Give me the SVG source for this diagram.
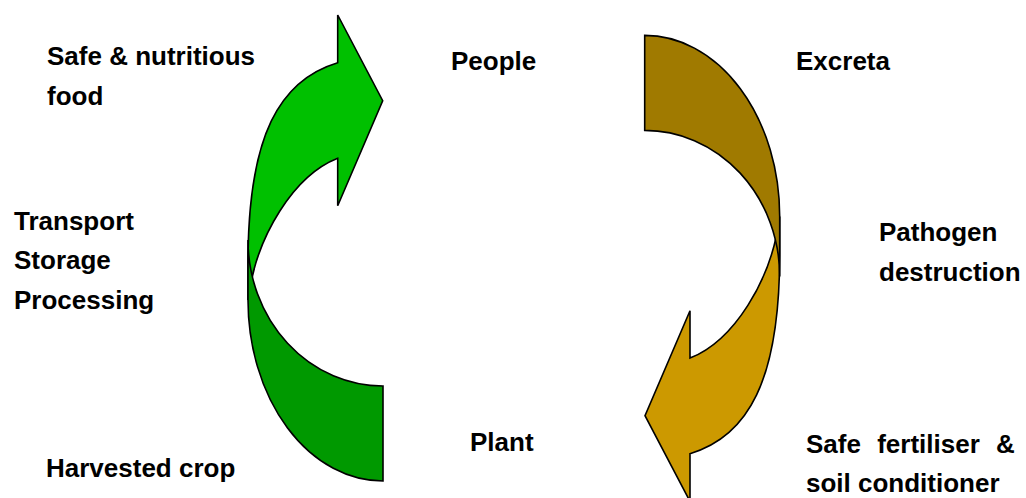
<svg xmlns="http://www.w3.org/2000/svg" xmlns:xlink="http://www.w3.org/1999/xlink" width="1026" height="498" viewBox="0 0 1026 498">
  <style>
    .lbl { font-family: "Liberation Sans", Arial, sans-serif; font-weight: bold; font-size: 26px; fill: #000; }
    .arr { stroke: #000; stroke-width: 1.6; stroke-linejoin: miter; }
  </style>
  <defs>
    <path id="head" d="M337.7,62.7 L337.7,15 L382.7,100.7 L337.7,205.7 L337.7,158.3 C295,175 256,235 248,300 L248,262 C248,135 280,80 337.7,62.7 Z"/>
    <path id="tail" d="M383,386 L383,481 A135,181 0 0 1 248,300 L248,240 A135,146 0 0 0 383,386 Z"/>
  </defs>
  <g id="connectors">
    <g id="food-cycle">
      <use xlink:href="#head" class="arr" fill="#00C000"/>
      <use xlink:href="#tail" class="arr" fill="#009900"/>
    </g>
    <g id="excreta-cycle" transform="rotate(180 513.85 258.2)">
      <use xlink:href="#head" class="arr" fill="#CC9900"/>
      <use xlink:href="#tail" class="arr" fill="#A07A00"/>
    </g>
  </g>
  <g id="safe-food"><text class="lbl" x="47" y="65">Safe &amp; nutritious</text><text class="lbl" x="47" y="105">food</text></g>
  <g id="people"><text class="lbl" x="451" y="70">People</text></g>
  <g id="excreta"><text class="lbl" x="796" y="70">Excreta</text></g>
  <g id="transport"><text class="lbl" x="14" y="230">Transport</text><text class="lbl" x="14" y="269">Storage</text><text class="lbl" x="14" y="308.5">Processing</text></g>
  <g id="pathogen"><text class="lbl" x="879" y="241">Pathogen</text><text class="lbl" x="879" y="281">destruction</text></g>
  <g id="plant"><text class="lbl" x="470" y="451">Plant</text></g>
  <g id="harvested"><text class="lbl" x="46" y="477">Harvested crop</text></g>
  <g id="fertiliser"><text class="lbl" x="806" y="453" word-spacing="9">Safe fertiliser &amp;</text><text class="lbl" x="806" y="492">soil conditioner</text></g>
</svg>
